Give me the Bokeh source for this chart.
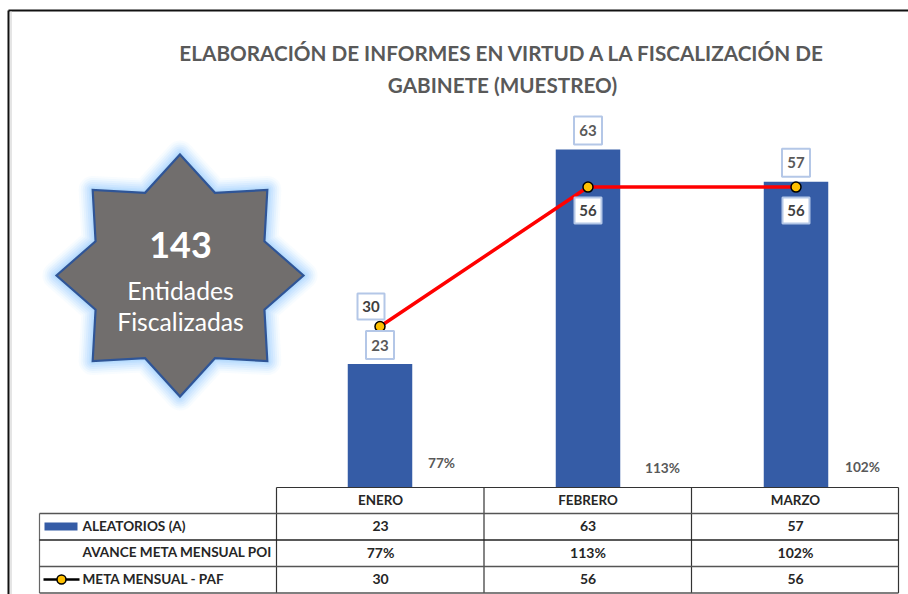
import math
from bokeh.plotting import figure
from bokeh.models import Range1d
from bokeh.core.properties import value
from bokeh.embed import file_html
from bokeh.resources import INLINE

months = ["ENERO", "FEBRERO", "MARZO"]
aleatorios = [23, 63, 57]
avance = ["77%", "113%", "102%"]
meta = [30, 56, 56]
title_lines = ["ELABORACIÓN DE INFORMES EN VIRTUD A LA FISCALIZACIÓN DE", "GABINETE (MUESTREO)"]
row_names = ["ALEATORIOS (A)", "AVANCE META MENSUAL POI", "META MENSUAL - PAF"]
star_lines = ["143", "Entidades", "Fiscalizadas"]

W, H = 908, 594
FONT = value("Lato")
BLUE = "#355ca6"
GREY = "#595959"

# Scale of the plot: pixels per unit / per category
PY = 5.365
PX = 208
Y0 = 487
X0 = 379.5

p = figure(width=W, height=H, output_backend="svg", toolbar_location=None,
           x_range=Range1d(-X0 / PX, (W - X0) / PX),
           y_range=Range1d(-(H - Y0) / PY, Y0 / PY),
           x_axis_location=None, y_axis_location=None,
           min_border=0, min_border_left=0, min_border_right=0,
           min_border_top=0, min_border_bottom=0,
           background_fill_color="white", border_fill_color="white",
           outline_line_color=None)
p.grid.visible = False
p.extra_x_ranges["px"] = Range1d(0, W)
p.extra_y_ranges["px"] = Range1d(H, 0)
PXR = dict(x_range_name="px", y_range_name="px")


def txt(x, y, s, size, color, style="normal", align="center"):
    p.text(x=[x], y=[y], text=[s], text_font=FONT, text_font_size=f"{size}px",
           text_font_style=style, text_color=color, text_align=align,
           text_baseline="middle", **PXR)


# Page frame
p.segment([8], [10], [908], [10], line_color="#111111", line_width=2, **PXR)
p.segment([8], [10], [8], [594], line_color="#111111", line_width=2, **PXR)
p.segment([10.5], [11], [10.5], [594], line_color="#dddddd", line_width=1.5, **PXR)

# Title
txt(502, 52.5, title_lines[0], 20.7, GREY, "bold")
txt(502, 84.5, title_lines[1], 20.7, GREY, "bold")

# Star
cx, cy, Rx, Ry, k_in = 179.5, 275, 123.5, 121, 0.74
sx, sy = [], []
for k in range(16):
    a = math.pi * k / 8
    f = 1 if k % 2 == 0 else k_in
    sx.append(cx + Rx * f * math.sin(a))
    sy.append(cy - Ry * f * math.cos(a))
for lw, al in [(28, 0.05), (24, 0.07), (20, 0.09), (16, 0.11), (12, 0.12), (8, 0.13), (5, 0.14)]:
    p.patch(sx, sy, fill_color=None, line_color="#7cc0fb", line_alpha=al,
            line_width=lw, line_join="round", **PXR)
p.patch(sx, sy, fill_color="#716e6d", line_color="#2f5597", line_width=2.2,
        line_join="miter", **PXR)
txt(180, 244, star_lines[0], 36, "white", "bold")
txt(180, 290, star_lines[1], 24.7, "white")
txt(180, 321, star_lines[2], 24.7, "white")

# Bars and line
idx = list(range(len(months)))
p.vbar(x=idx, top=aleatorios, bottom=0, width=64.5 / PX, fill_color=BLUE, line_color=None)
p.line(idx, meta, line_color="#ff0000", line_width=3.5)
p.scatter(idx, meta, marker="circle", size=10, fill_color="#ffc000",
          line_color="#000000", line_width=1.5)


def boxed(xs, ys, labels, w, h, color):
    p.rect(xs, ys, width=w, height=h, width_units="screen", height_units="screen",
           fill_color="white", line_color="#b4c7e7", line_width=2)
    p.text(xs, ys, text=labels, text_font=FONT, text_font_size="15px", text_font_style="bold",
           text_color=color, text_align="center", text_baseline="middle")


# Value labels, placed relative to the values
bar_x = [idx[0], idx[1], idx[2]]
bar_y = [v + 19 / PY for v in aleatorios]
boxed(bar_x, bar_y, [str(v) for v in aleatorios], 28, 28, GREY)
meta_x = [idx[0] - 9 / PX, idx[1], idx[2]]
meta_y = [meta[0] + 20 / PY, meta[1] - 23.5 / PY, meta[2] - 23.5 / PY]
boxed(meta_x, meta_y, [str(v) for v in meta], 27, 26, "#404040")

# Percent notes
for (x, y), s in zip([(441, 462), (662, 467), (862, 466)], avance):
    txt(x, y, s, 13.7, GREY, "bold")

# Data table
cols = [276, 483.5, 691, 898]
rows = [487, 513, 539.5, 566, 592.5]
for i, x in enumerate(cols):
    p.segment([x], [rows[0]], [x], [rows[-1]], line_color="#333333", line_width=1.2, **PXR)
p.segment([39], [rows[1]], [39], [rows[-1]], line_color="#666666", line_width=1.2, **PXR)
p.segment([cols[0]], [rows[0]], [cols[-1]], [rows[0]], line_color="#333333", line_width=1.2, **PXR)
for i, y in enumerate(rows[1:]):
    p.segment([39], [y], [cols[-1]], [y], line_color="#555555" if i != 1 else "#222222",
              line_width=1.3, **PXR)

centers = [380, 587.5, 795]
row_y = [525, 551.5, 578]
for x, m, a, b, c in zip(centers, months, aleatorios, avance, meta):
    txt(x, 499.5, m, 13.4, "#262626", "bold")
    txt(x, row_y[0], str(a), 14, "#262626", "bold")
    txt(x, row_y[1], b, 14, "#262626", "bold")
    txt(x, row_y[2], str(c), 14, "#262626", "bold")
for y, s in zip(row_y, row_names):
    txt(82, y, s, 13.6, "#262626", "bold", "left")

# Legend keys
p.quad(left=[44], right=[77], top=[522], bottom=[530], fill_color=BLUE, line_color=None, **PXR)
p.segment([43], [579], [79], [579], line_color="#000000", line_width=2.5, **PXR)
p.scatter([61], [579], marker="circle", size=9, fill_color="#ffc000",
          line_color="#000000", line_width=1.5, **PXR)

open("out.html", "w").write(file_html(p, INLINE))
